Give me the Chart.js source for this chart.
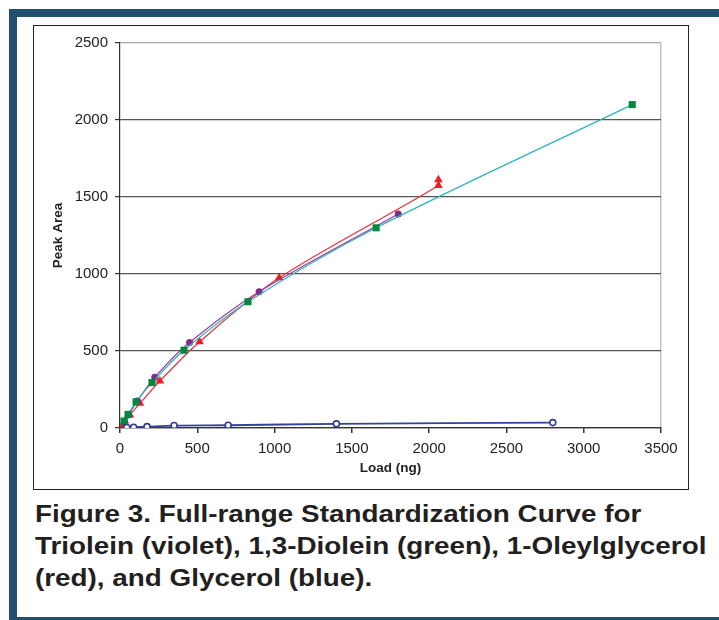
<!DOCTYPE html>
<html>
<head>
<meta charset="utf-8">
<script src="https://cdn.jsdelivr.net/npm/chart.js@4.4.1/dist/chart.umd.min.js"></script>
<style>
    html, body { margin: 0; padding: 0; background: #fff; }
    body { width: 719px; height: 620px; overflow: hidden; position: relative; font-family: "Liberation Sans", Arial, sans-serif; }
    .frame {
        position: absolute; left: 9px; top: 9px; width: 760px; height: 600px;
        border-top: 8px solid #23506f; border-left: 8px solid #23506f; border-bottom: 8px solid #23506f;
    }
    .chart-box {
        position: absolute; left: 33px; top: 25px; width: 654px; height: 463px;
        border: 1px solid #222;
    }
    .caption {
        position: absolute; left: 35px; top: 498px; width: 600px;
        font-weight: bold; font-size: 24px; line-height: 32px; color: #231f20;
        white-space: nowrap; transform: scaleX(1.16); transform-origin: 0 0;
    }
</style>
</head>
<body>
<div class="frame"></div>
<div class="chart-box"><canvas id="curveChart" width="654" height="463"></canvas></div>
<div class="caption">Figure 3. Full-range Standardization Curve for<br>Triolein (violet), 1,3-Diolein (green), 1-Oleylglycerol<br>(red), and Glycerol (blue).</div>
<script>
// Values (load in ng, peak area)
const trioleinLoad = [28, 56, 112, 225, 450, 900, 1800];
const trioleinArea = [40, 85, 175, 330, 555, 885, 1390];

const diolein13Load = [26, 52, 104, 207, 414, 828, 1657, 3314];
const diolein13Area = [45, 88, 170, 295, 505, 820, 1300, 2100];

const oleylglycerolLoad = [16, 32, 64, 129, 258, 515, 1030, 2060, 2060];
const oleylglycerolArea = [20, 45, 85, 160, 305, 560, 975, 1575, 1612];

const glycerolLoad = [44, 88, 175, 350, 700, 1400, 2800];
const glycerolArea = [3, 5, 9, 16, 18, 27, 35];

const xTicks = [0, 500, 1000, 1500, 2000, 2500, 3000, 3500];
const yTicks = [0, 500, 1000, 1500, 2000, 2500];

const toPoints = (xs, ys) => xs.map((x, i) => ({ x, y: ys[i] }));

const tickFont = { family: '"Liberation Sans", Arial, sans-serif', size: 15 };
const titleFont = { family: '"Liberation Sans", Arial, sans-serif', size: 13.5, weight: 'bold' };

new Chart(document.getElementById('curveChart'), {
    type: 'scatter',
    data: {
        datasets: [
            {
                label: 'Glycerol',
                data: toPoints(glycerolLoad, glycerolArea),
                showLine: true,
                borderColor: '#34429a',
                borderWidth: 1.8,
                tension: 0.3,
                pointStyle: 'circle',
                pointRadius: 3,
                pointBorderWidth: 1.6,
                pointBorderColor: '#2e3b94',
                pointBackgroundColor: '#ffffff'
            },
            {
                label: '1,3-Diolein',
                data: toPoints(diolein13Load, diolein13Area),
                showLine: true,
                borderColor: '#2ab3bb',
                borderWidth: 1.2,
                tension: 0.3,
                pointStyle: 'rect',
                pointRadius: 5,
                pointBorderWidth: 0,
                pointBackgroundColor: '#00873f'
            },
            {
                label: 'Triolein',
                data: toPoints(trioleinLoad, trioleinArea),
                showLine: true,
                borderColor: '#9a3c9e',
                borderWidth: 1.2,
                tension: 0.3,
                pointStyle: 'circle',
                pointRadius: 3.5,
                pointBorderWidth: 0,
                pointBackgroundColor: '#7d2b8d'
            },
            {
                label: '1-Oleylglycerol',
                data: toPoints(oleylglycerolLoad, oleylglycerolArea),
                showLine: true,
                borderColor: '#ec3038',
                borderWidth: 1.2,
                tension: 0.3,
                pointStyle: 'triangle',
                pointRadius: 5,
                pointBorderWidth: 0,
                pointBackgroundColor: '#ee1c25'
            }
        ]
    },
    options: {
        responsive: false,
        animation: false,
        layout: { padding: { top: 17, right: 27, left: 0, bottom: 0 } },
        plugins: {
            legend: { display: false },
            tooltip: { enabled: false }
        },
        scales: {
            x: {
                type: 'linear',
                min: 0,
                max: 3500,
                afterBuildTicks: scale => { scale.ticks = xTicks.map(v => ({ value: v })); },
                afterFit: scale => { scale.height = 61; },
                grid: {
                    color: ctx => ctx.tick && ctx.tick.value === 3500 ? '#c4c4c4' : 'rgba(0,0,0,0)',
                    lineWidth: 1.5,
                    tickColor: '#333',
                    tickLength: 5
                },
                border: { color: '#333', width: 1.2 },
                ticks: { font: tickFont, color: '#222', padding: 7, maxRotation: 0, callback: v => String(v) },
                title: { display: true, text: 'Load (ng)', font: titleFont, color: '#222', padding: { top: 0, bottom: 13 } }
            },
            y: {
                type: 'linear',
                min: 0,
                max: 2500,
                afterBuildTicks: scale => { scale.ticks = yTicks.map(v => ({ value: v })); },
                afterFit: scale => { scale.width = 86; },
                grid: {
                    color: ctx => ctx.tick && ctx.tick.value === 2500 ? '#a8a8a8' : '#555',
                    lineWidth: 1.2,
                    tickColor: '#333',
                    tickLength: 5
                },
                border: { color: '#333', width: 1.2 },
                ticks: { font: tickFont, color: '#222', padding: 7, callback: v => String(v) },
                title: { display: true, text: 'Peak Area', font: titleFont, color: '#222', padding: { top: 16, bottom: 0 } }
            }
        }
    }
});
</script>
</body>
</html>
